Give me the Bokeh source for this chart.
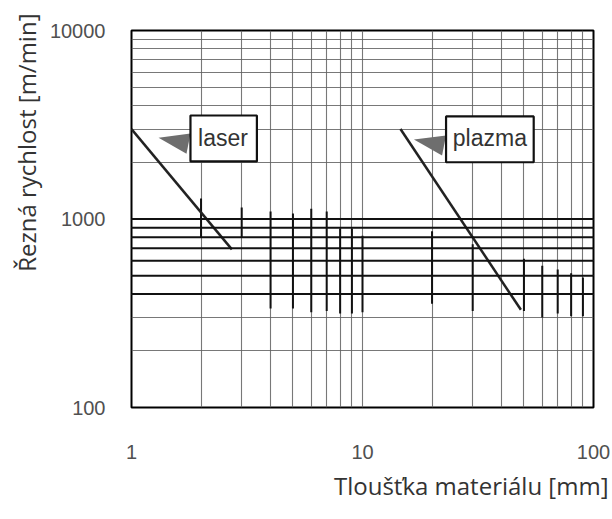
from bokeh.plotting import figure
from bokeh.models import Range1d, FixedTicker, Span, Title, ColumnDataSource
from bokeh.core.properties import value
from bokeh.embed import file_html
from bokeh.resources import INLINE

# --- data ---
x_ticks = [1, 10, 100]
y_ticks = [100, 1000, 10000]
grid_x = [2, 3, 4, 5, 6, 7, 8, 9, 10, 20, 30, 40, 50, 60, 70, 80, 90]
grid_y = [200, 300, 400, 500, 600, 700, 800, 900, 1000,
          2000, 3000, 4000, 5000, 6000, 7000, 8000, 9000]
heavy_y = [1000, 900, 800, 700, 600, 500, 400]
seg_x = [2, 3, 4, 5, 6, 7, 8, 9, 10, 20, 30, 50, 60, 70, 80, 90]
seg_top = [1285, 1150, 1095, 1070, 1135, 1095, 890, 890, 815, 860, 735, 615, 565, 540, 515, 490]
seg_bottom = [800, 800, 335, 335, 320, 325, 315, 315, 320, 355, 325, 325, 300, 315, 305, 305]
laser_x = [1, 2.72]
laser_y = [3000, 690]
plazma_x = [14.6, 48.5]
plazma_y = [3000, 330]
box_names = ["laser", "plazma"]
box_left = [1.80, 23.0]
box_right = [3.49, 55.1]
box_bottom = [2020, 2000]
box_top = [3540, 3500]
text_x = [2.49, 35.6]
text_y = [2700, 2680]
tri_xs = [[1.31, 1.80, 1.73], [16.7, 23.0, 22.1]]
tri_ys = [[2700, 2840, 2220], [2640, 2770, 2170]]
x_title = "Tloušťka materiálu [mm]"
y_title = "Řezná rychlost [m/min]"

p = figure(width=610, height=515, x_axis_type="log", y_axis_type="log",
           x_range=Range1d(1, 100), y_range=Range1d(100, 10000),
           output_backend="svg", toolbar_location=None,
           min_border_left=131, min_border_top=30, min_border_right=17,
           min_border_bottom=108)
p.background_fill_color = "white"
p.outline_line_color = "black"
p.outline_line_width = 2

for ax, ticks in ((p.xaxis, x_ticks), (p.yaxis, y_ticks)):
    ax.ticker = FixedTicker(ticks=ticks)
    ax.major_label_overrides = {t: str(t) for t in ticks}
    ax.axis_line_color = None
    ax.major_tick_line_color = None
    ax.minor_tick_line_color = None
    ax.major_label_text_font = "Liberation Sans"
    ax.major_label_text_font_size = "20px"
    ax.major_label_text_color = "#505050"
p.xaxis.major_label_standoff = 31
p.yaxis.major_label_standoff = 20

p.xgrid.ticker = FixedTicker(ticks=grid_x)
p.ygrid.ticker = FixedTicker(ticks=grid_y)
for g in (p.xgrid, p.ygrid):
    g.grid_line_color = "#606060"
    g.grid_line_width = 1.1
    g.grid_line_alpha = 0.85

for v in heavy_y:
    p.add_layout(Span(location=v, dimension="width", line_color="#111111", line_width=2))

p.segment(x0=seg_x, y0=seg_bottom, x1=seg_x, y1=seg_top, line_color="#111111", line_width=2)

p.line(laser_x, laser_y, line_color="#222222", line_width=2.5)
p.line(plazma_x, plazma_y, line_color="#222222", line_width=2.5)

p.patches(tri_xs, tri_ys, fill_color="#6e6e6e", line_color=None)
src = ColumnDataSource(dict(l=box_left, r=box_right, b=box_bottom, t=box_top,
                            tx=text_x, ty=text_y, name=box_names))
p.quad(left="l", right="r", bottom="b", top="t", source=src,
       fill_color="white", line_color="#111111", line_width=2.2)
p.text(x="tx", y="ty", text="name", source=src, text_align="center",
       text_baseline="middle", text_font=value("Liberation Sans"),
       text_font_size="23px", text_color="#333333")

p.add_layout(Title(text=x_title, align="right", offset=-15, standoff=11,
                   text_font="Open Sans", text_font_size="24px",
                   text_font_style="normal", text_color="#333333"), "below")
p.add_layout(Title(text=y_title, align="right", offset=-17, standoff=8,
                   text_font="Open Sans", text_font_size="24px",
                   text_font_style="normal", text_color="#333333"), "left")

open("out.html", "w").write(file_html(p, INLINE))
